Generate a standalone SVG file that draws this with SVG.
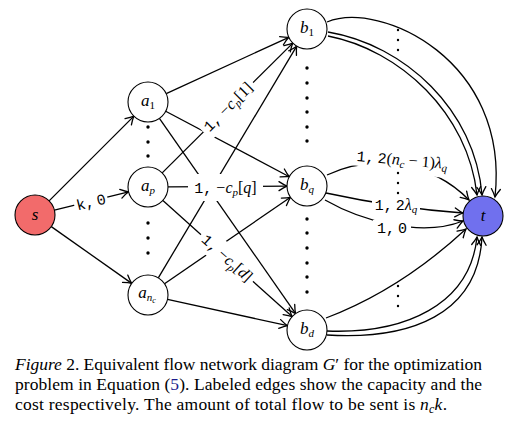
<svg xmlns="http://www.w3.org/2000/svg" width="517" height="423" viewBox="0 0 517 423">
<style>
.e{fill:none;stroke:#000;stroke-width:1.3}
.ea{fill:none;stroke:#000;stroke-width:1.3;marker-end:url(#arr)}
.n{fill:#fff;stroke:#000;stroke-width:1.1}
.nl{font-family:"Liberation Serif",serif;font-style:italic;font-size:17px;text-anchor:middle}
.sb{font-style:normal;font-size:11px}
.sbi{font-size:11px}
.lb{font-family:"Liberation Serif",serif;font-size:16px;text-anchor:middle}
.tt{font-family:"Liberation Mono",monospace;font-size:15px}
.mi{font-style:italic}
.bx{fill:#fff;stroke:none}
.dot{fill:#000}
.cap{font-family:"Liberation Serif",serif;font-size:17.5px}
</style>
<defs>
<marker id="arr" markerUnits="userSpaceOnUse" markerWidth="12" markerHeight="12" viewBox="-10 -6 12 12" refX="0" refY="0" orient="auto">
<path d="M-8,-4.5 Q-3,-1.2 0,0 Q-3,1.2 -8,4.5" fill="none" stroke="#000" stroke-width="1.3" stroke-linecap="round"/>
</marker>
</defs>
<g id="connectors">
<line class="ea" x1="49.1" y1="200.9" x2="133.9" y2="116.1"/>
<line class="ea" x1="54.4" y1="210.2" x2="128.6" y2="191.8"/>
<line class="ea" x1="51.3" y1="226.6" x2="131.7" y2="283.4"/>
<line class="ea" x1="166.2" y1="93.7" x2="288.8" y2="37.3"/>
<line class="ea" x1="165.7" y1="111.3" x2="289.3" y2="176.7"/>
<line class="ea" x1="159.4" y1="118.4" x2="295.6" y2="313.6"/>
<line class="ea" x1="162.2" y1="172.9" x2="292.8" y2="43.1"/>
<line class="ea" x1="168" y1="186.9" x2="287" y2="186.1"/>
<line class="ea" x1="162.9" y1="200.4" x2="292.1" y2="316.6"/>
<line class="ea" x1="158.3" y1="277.8" x2="296.7" y2="46.2"/>
<line class="ea" x1="164.5" y1="283.7" x2="290.5" y2="197.3"/>
<line class="ea" x1="167.5" y1="299.3" x2="287.5" y2="325.7"/>
<path class="ea" d="M327,22 C380,0 510,60 495,197"/>
<path class="ea" d="M328,32 C405,45 475,110 482,195"/>
<path class="ea" d="M328,36 C400,50 468,113 477,195"/>
<path class="ea" d="M327,175 C370,155 430,160 469,200"/>
<path class="ea" d="M326,193 Q395,208 463,213"/>
<path class="ea" d="M325,200 C360,220 420,238 463,221"/>
<path class="ea" d="M326,318 Q400,290 466,229"/>
<path class="ea" d="M327,331 C405,334 470,305 477,237"/>
<path class="ea" d="M327,335 C410,340 478,315 482,237"/>
</g>
<g id="edge-labels">
<g transform="translate(91,202) rotate(-14)"><rect class="bx" x="-17" y="-10" width="34" height="20"/><text class="lb" y="5"><tspan class="tt">k,</tspan><tspan class="tt" dx="3">0</tspan></text></g>
<g transform="translate(228,107) rotate(-44.8)"><rect class="bx" x="-35" y="-12" width="70" height="24"/><text class="lb" y="5"><tspan class="tt">1,</tspan><tspan dx="4">−</tspan><tspan class="mi">c</tspan><tspan class="mi sbi" dy="3">p</tspan><tspan dy="-3">[1]</tspan></text></g>
<g transform="translate(225.5,187.5)"><rect class="bx" x="-37.5" y="-13.5" width="75" height="27"/><text class="lb" y="5"><tspan class="tt">1,</tspan><tspan dx="4">−</tspan><tspan class="mi">c</tspan><tspan class="mi sbi" dy="3">p</tspan><tspan dy="-3">[</tspan><tspan class="mi">q</tspan>]</text></g>
<g transform="translate(227,258) rotate(42)"><rect class="bx" x="-35" y="-12" width="70" height="24"/><text class="lb" y="5"><tspan class="tt">1,</tspan><tspan dx="4">−</tspan><tspan class="mi">c</tspan><tspan class="mi sbi" dy="3">p</tspan><tspan dy="-3">[</tspan><tspan class="mi">d</tspan>]</text></g>
<g transform="translate(402,161) rotate(8)"><rect class="bx" x="-51" y="-11" width="102" height="22"/></g>
<g transform="translate(402,160) rotate(5)"><text class="lb" y="5"><tspan class="tt">1,</tspan><tspan class="tt" dx="3">2</tspan>(<tspan class="mi">n</tspan><tspan class="mi sbi" dy="3">c</tspan><tspan dy="-3"> − 1)</tspan><tspan class="mi">λ</tspan><tspan class="mi sbi" dy="3">q</tspan></text></g>
<g transform="translate(396,206)"><rect class="bx" x="-24" y="-9" width="48" height="18"/><text class="lb" y="4"><tspan class="tt">1,</tspan><tspan class="tt" dx="3">2</tspan><tspan class="mi">λ</tspan><tspan class="mi sbi" dy="3">q</tspan></text></g>
<g transform="translate(392,228)"><rect class="bx" x="-19" y="-8" width="38" height="16"/><text class="lb" y="5"><tspan class="tt">1,</tspan><tspan class="tt" dx="3">0</tspan></text></g>
</g>
<g id="dots">
<circle class="dot" cx="148" cy="127" r="1.7"/><circle class="dot" cx="148" cy="142" r="1.7"/><circle class="dot" cx="148" cy="156" r="1.7"/>
<circle class="dot" cx="148" cy="223" r="1.7"/><circle class="dot" cx="148" cy="238" r="1.7"/><circle class="dot" cx="148" cy="253" r="1.7"/>
<circle class="dot" cx="307" cy="68" r="1.7"/><circle class="dot" cx="307" cy="83" r="1.7"/><circle class="dot" cx="307" cy="98" r="1.7"/><circle class="dot" cx="307" cy="112" r="1.7"/><circle class="dot" cx="307" cy="127" r="1.7"/><circle class="dot" cx="307" cy="141" r="1.7"/>
<circle class="dot" cx="307" cy="219" r="1.7"/><circle class="dot" cx="307" cy="233" r="1.7"/><circle class="dot" cx="307" cy="248" r="1.7"/><circle class="dot" cx="307" cy="263" r="1.7"/><circle class="dot" cx="307" cy="277" r="1.7"/><circle class="dot" cx="307" cy="292" r="1.7"/>
<circle class="dot" cx="398" cy="30" r="1.2"/><circle class="dot" cx="398" cy="40" r="1.2"/><circle class="dot" cx="398" cy="50" r="1.2"/>
<circle class="dot" cx="398" cy="173" r="1.2"/><circle class="dot" cx="398" cy="183" r="1.2"/><circle class="dot" cx="398" cy="193" r="1.2"/>
<circle class="dot" cx="398" cy="286" r="1.2"/><circle class="dot" cx="398" cy="296" r="1.2"/><circle class="dot" cx="398" cy="306" r="1.2"/>
</g>
<g id="node-s"><circle class="n" cx="35" cy="215" r="20" style="fill:#f26b6b"/><text class="nl" x="35" y="220">s</text></g>
<g id="node-a1"><circle class="n" cx="148" cy="102" r="20"/><text class="nl" x="148" y="106">a<tspan class="sb" dy="3">1</tspan></text></g>
<g id="node-ap"><circle class="n" cx="148" cy="187" r="20"/><text class="nl" x="148" y="191">a<tspan class="sbi" dy="3">p</tspan></text></g>
<g id="node-anc"><circle class="n" cx="148" cy="295" r="20"/><text class="nl" x="147" y="298">a<tspan class="sbi" dy="3">n</tspan><tspan style="font-size:8px" dy="2">c</tspan></text></g>
<g id="node-b1"><circle class="n" cx="307" cy="29" r="20"/><text class="nl" x="307" y="33">b<tspan class="sb" dy="3">1</tspan></text></g>
<g id="node-bq"><circle class="n" cx="307" cy="186" r="20"/><text class="nl" x="307" y="190">b<tspan class="sbi" dy="3">q</tspan></text></g>
<g id="node-bd"><circle class="n" cx="307" cy="330" r="20"/><text class="nl" x="307" y="334">b<tspan class="sbi" dy="3">d</tspan></text></g>
<g id="node-t"><circle class="n" cx="483" cy="216" r="20" style="fill:#7070ee"/><text class="nl" x="483" y="221">t</text></g>
<g id="caption">
<text class="cap" x="15" y="370" textLength="467" lengthAdjust="spacing"><tspan font-style="italic">Figure</tspan> 2. Equivalent flow network diagram <tspan font-style="italic">G</tspan>′ for the optimization</text>
<text class="cap" x="15" y="390" textLength="467" lengthAdjust="spacing">problem in Equation (<tspan fill="#1c1c8c">5</tspan>). Labeled edges show the capacity and the</text>
<text class="cap" x="15" y="410" textLength="432" lengthAdjust="spacing">cost respectively. The amount of total flow to be sent is <tspan font-style="italic">n</tspan><tspan font-style="italic" font-size="12" dy="3">c</tspan><tspan font-style="italic" dy="-3">k</tspan>.</text>
</g>
</svg>
